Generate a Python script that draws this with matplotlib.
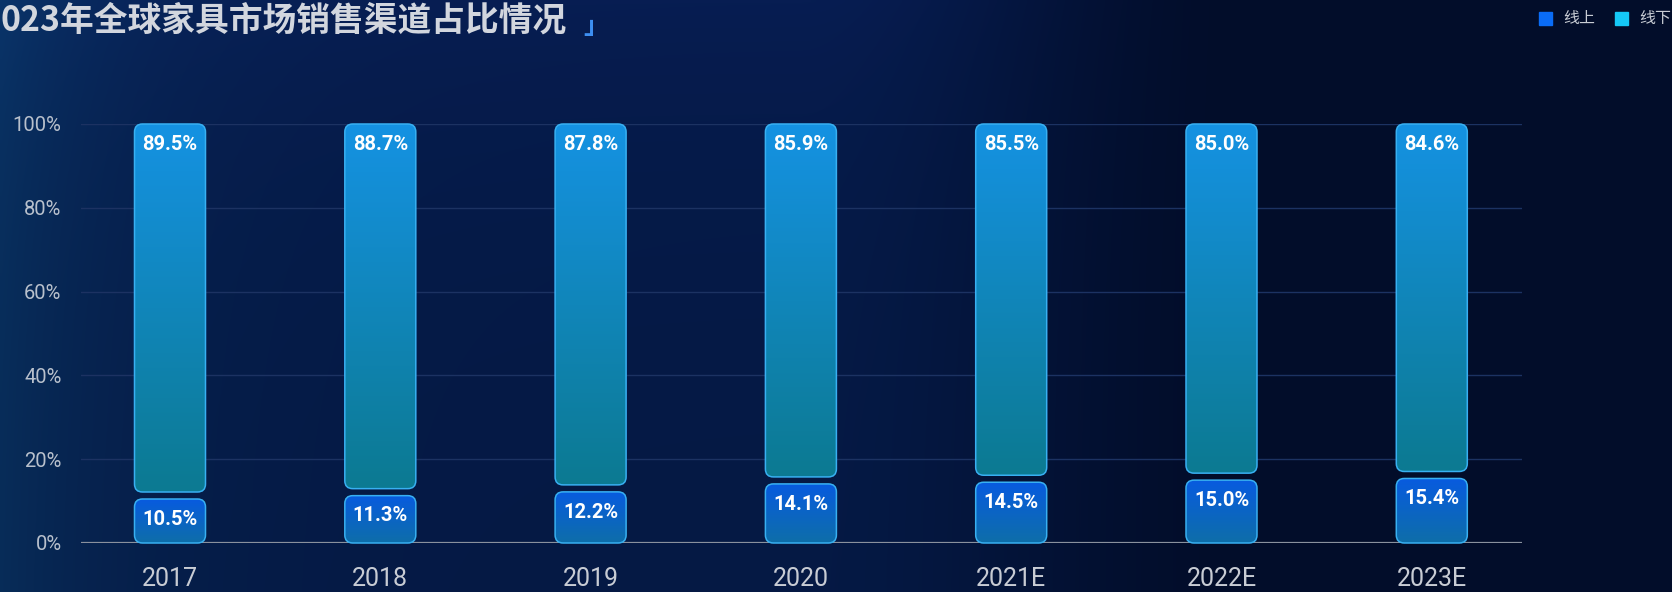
import numpy as np
import matplotlib
matplotlib.use("Agg")
import matplotlib.pyplot as plt
from matplotlib.patches import FancyBboxPatch, Rectangle
from matplotlib.ticker import PercentFormatter

years = ["2017", "2018", "2019", "2020", "2021E", "2022E", "2023E"]
online = [10.5, 11.3, 12.2, 14.1, 14.5, 15.0, 15.4]
offline = [89.5, 88.7, 87.8, 85.9, 85.5, 85.0, 84.6]

W, H, DPI = 1672, 592, 100
fig = plt.figure(figsize=(W / DPI, H / DPI), dpi=DPI)

# background: navy, lighter teal edge on the left, darker on the right
bg = fig.add_axes([0, 0, 1, 1])
bg.set_axis_off()
yy, xx = np.mgrid[0:H:4, 0:W:4].astype(float)
edge = np.array([8, 48, 92]) / 255
mid = np.array([5, 25, 68]) / 255
right = np.array([2, 13, 42]) / 255
s = np.clip((xx - 800) / 450, 0, 1)
s = s * s * (3 - 2 * s)
img = mid[None, None] * (1 - s[..., None]) + right[None, None] * s[..., None]
e = np.exp(-xx / 130) * (0.8 + 0.2 * np.exp(-yy / 300))
img = img + (edge - mid)[None, None] * e[..., None]
img = img + np.array([2, 4, 14])[None, None] / 255 * (np.exp(-yy / 160) * (1 - s))[..., None]
bg.imshow(np.clip(img, 0, 1), extent=[0, 1, 0, 1], aspect="auto",
          interpolation="bilinear", transform=bg.transAxes)

# main chart axes (pixel layout)
ax_l, ax_r, ax_b, ax_t = 81, 1522, 543, 124
ax = fig.add_axes([ax_l / W, 1 - ax_b / H, (ax_r - ax_l) / W, (ax_b - ax_t) / H])
ax.patch.set_alpha(0)
pitch = 210.3
x0 = 170
for sp in ax.spines.values():
    sp.set_visible(False)

px_x = pitch                     # pixels per x unit
px_y = (ax_b - ax_t) / 100       # pixels per y unit
aspect = px_x / px_y

ax.set_yticks([0, 20, 40, 60, 80, 100])
ax.yaxis.set_major_formatter(PercentFormatter(100, decimals=0))
ax.grid(axis="y", color="#1c3262", linewidth=1.0)
ax.set_axisbelow(True)
ax.axhline(0, color="#8a919e", linewidth=1.6, zorder=3)
ax.tick_params(axis="y", length=0, pad=14, labelsize=14.5, labelcolor="#b8c0cc")
ax.tick_params(axis="x", length=0, pad=17, labelsize=18, labelcolor="#c8ccd4")
for lab in ax.get_yticklabels():
    lab.set_fontfamily("Roboto")
xs = np.arange(len(years))
ax.set_xticks(xs)
ax.set_xticklabels(years, fontfamily="Roboto")

bar_w = 71 / pitch
gap = 7 / px_y
radius = 8 / px_x


def grad_bar(x, y0, y1, c_top, c_bot, label):
    patch = FancyBboxPatch((x - bar_w / 2, y0), bar_w, y1 - y0,
                           boxstyle=f"round,pad=0,rounding_size={radius}",
                           mutation_aspect=aspect, facecolor="none",
                           edgecolor="#38b0f2", linewidth=1.1, zorder=5,
                           clip_on=False)
    ax.add_patch(patch)
    c_top = np.array(matplotlib.colors.to_rgb(c_top))
    c_bot = np.array(matplotlib.colors.to_rgb(c_bot))
    f = np.linspace(0, 1, 64)[:, None]
    arr = (c_bot * (1 - f) + c_top * f)[:, None, :]
    im = ax.imshow(arr, extent=[x - bar_w / 2, x + bar_w / 2, y0, y1],
                   origin="lower", aspect="auto", zorder=4,
                   interpolation="bilinear")
    im.set_clip_path(patch)
    ax.annotate(label, (x, y1), xytext=(0, -14.5), textcoords="offset points",
                ha="center", va="center", color="white", fontsize=14.5,
                fontweight="bold", fontfamily="Roboto", zorder=6)


for i in range(len(years)):
    grad_bar(xs[i], 0, online[i], "#085bdf", "#0e6ea9", f"{online[i]:.1f}%")
    grad_bar(xs[i], online[i] + gap, online[i] + offline[i],
             "#1592e2", "#0c7a92", f"{offline[i]:.1f}%")

ax.set_xlim((ax_l - x0) / pitch, (ax_r - x0) / pitch)
ax.set_ylim(0, 100)

# title (cut off on the left as in the reference)
fig.text(0 / W, 1 - 20 / H, "023年全球家具市场销售渠道占比情况",
         fontsize=24.3, fontweight="bold", color="#d2d6de",
         family=["Noto Sans CJK SC", "DejaVu Sans"], ha="left", va="center")
fig.text(583 / W, 1 - 27 / H, "」", fontsize=18, fontweight="bold",
         color="#3d8ff2", family=["Noto Sans CJK SC", "DejaVu Sans"],
         ha="left", va="center")

# legend
for sx, txt, col in [(1539, "线上", "#0a6cf6"), (1615, "线下", "#15c8f6")]:
    fig.patches.append(Rectangle((sx / W, 1 - 25 / H), 13 / W, 13 / H,
                                 transform=fig.transFigure, color=col))
    fig.text((sx + 24) / W, 1 - 18.5 / H, txt, fontsize=11.5, color="#c8ccd4",
             family=["Noto Sans CJK SC", "DejaVu Sans"], ha="left", va="center")

fig.savefig("out.png", dpi=DPI)
